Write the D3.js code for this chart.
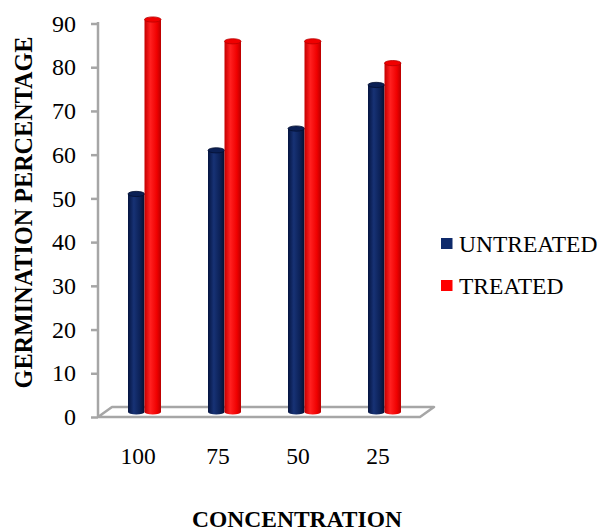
<!DOCTYPE html>
<html>
<head>
<meta charset="utf-8">
<script src="https://cdn.jsdelivr.net/npm/d3@7"></script>
<style>
  html, body { margin: 0; padding: 0; background: #fff; }
  svg { display: block; }
  text { font-family: "Liberation Serif", "Times New Roman", serif; fill: #000; }
</style>
</head>
<body>
<svg id="chart" width="602" height="532"></svg>
<script>
// Germination percentage by concentration, untreated vs treated seeds
const categories = ["100", "75", "50", "25"];
const seriesNames = ["UNTREATED", "TREATED"];
const untreated = [50, 60, 65, 75];
const treated = [90, 85, 85, 80];
const yTicks = [0, 10, 20, 30, 40, 50, 60, 70, 80, 90];
const seriesColors = {
  UNTREATED: ["#051440", "#173275", "#0b2055", "#040f30"],
  TREATED: ["#c40000", "#ff2020", "#f00000", "#b80000"]
};

const svg = d3.select("#chart");

// Plot frame
const x = d3.scaleBand().domain(categories).range([98, 418]);
const y = d3.scaleLinear().domain([0, 90]).range([417, 23.5]);
// Bars sit a little deeper in the 3D box, so their scale is shifted up
const depth = { dx: 14, dy: -10 };
const yBar = d3.scaleLinear().domain([0, 90]).range([412, 19.5]);
const x1 = d3.scaleBand().domain(seriesNames).range([30, 63]);

const defs = svg.append("defs");
seriesNames.forEach((s, i) => {
  const c = seriesColors[s];
  const g = defs.append("linearGradient")
    .attr("id", "cyl" + i).attr("x1", "0%").attr("x2", "100%").attr("y1", "0%").attr("y2", "0%");
  g.append("stop").attr("offset", "0%").attr("stop-color", c[0]);
  g.append("stop").attr("offset", "35%").attr("stop-color", c[1]);
  g.append("stop").attr("offset", "75%").attr("stop-color", c[2]);
  g.append("stop").attr("offset", "100%").attr("stop-color", c[3]);
});

// Floor of the 3D box
const fx0 = x.range()[0], fx1 = x.range()[1] + 2, fy = y(0);
svg.append("path")
  .attr("d", d3.line()([[fx0, fy], [fx1, fy], [fx1 + depth.dx, fy + depth.dy], [fx0 + depth.dx, fy + depth.dy], [fx0, fy]]))
  .attr("fill", "#fff").attr("stroke", "#a6a6a6").attr("stroke-width", 2.5)
  .attr("stroke-linejoin", "round");

// Value axis
const yAxis = svg.append("g")
  .attr("transform", `translate(${fx0},0)`)
  .call(d3.axisLeft(y).tickValues(yTicks).tickSize(7).tickPadding(15).tickFormat(d3.format("d")));
yAxis.attr("font-family", null).attr("font-size", null);
yAxis.select(".domain").attr("stroke", "#a6a6a6").attr("stroke-width", 2.5)
  .attr("d", `M0,${y(90) - 1.5}V${y(0)}`);
yAxis.selectAll(".tick line").attr("stroke", "#a6a6a6").attr("stroke-width", 2.5);
yAxis.selectAll(".tick text")
  .style("font-family", "'Liberation Serif', serif").style("font-size", "24px").attr("fill", "#000");

// Cylinder bars
const data = [];
categories.forEach((c, ci) => {
  data.push({ cat: c, s: "UNTREATED", v: untreated[ci], idx: 0 });
  data.push({ cat: c, s: "TREATED", v: treated[ci], idx: 1 });
});
const bw = x1.bandwidth();
const ry = 2.6;
const bars = svg.append("g").selectAll("g.bar").data(data).join("g").attr("class", "bar");
bars.each(function (d) {
  const g = d3.select(this);
  const left = x(d.cat) + x1(d.s);
  const top = yBar(d.v), bot = yBar(0);
  const rx = bw / 2, cx = left + rx;
  g.append("path")
    .attr("d", `M${left},${top}L${left},${bot}A${rx},${ry} 0 0 0 ${left + bw},${bot}L${left + bw},${top}Z`)
    .attr("fill", `url(#cyl${d.idx})`);
  g.append("ellipse")
    .attr("cx", cx).attr("cy", top).attr("rx", rx).attr("ry", ry)
    .attr("fill", seriesColors[d.s][2])
    .attr("stroke", seriesColors[d.s][3]).attr("stroke-width", 0.8);
});

// Category labels
svg.append("g").selectAll("text").data(categories).join("text")
  .attr("x", d => x(d) + x.bandwidth() / 2)
  .attr("y", 463.5)
  .attr("text-anchor", "middle")
  .style("font-size", "23.5px")
  .text(d => d);

// Axis titles
svg.append("text")
  .attr("transform", `translate(31.5,${212.5}) rotate(-90)`)
  .attr("text-anchor", "middle")
  .style("font-size", "24.2px").style("font-weight", "bold")
  .text("GERMINATION PERCENTAGE");

svg.append("text")
  .attr("x", 297).attr("y", 527)
  .attr("text-anchor", "middle")
  .style("font-size", "23.5px").style("font-weight", "bold")
  .text("CONCENTRATION");

// Legend
const legend = svg.append("g").selectAll("g").data(seriesNames).join("g")
  .attr("transform", (d, i) => `translate(441,${238 + i * 42})`);
legend.append("rect").attr("width", 11.5).attr("height", 11)
  .attr("fill", d => d === "UNTREATED" ? "#0e2a6b" : "#ff0000");
legend.append("text").attr("x", 18).attr("y", 14)
  .style("font-size", "23.5px").text(d => d);
</script>
</body>
</html>
